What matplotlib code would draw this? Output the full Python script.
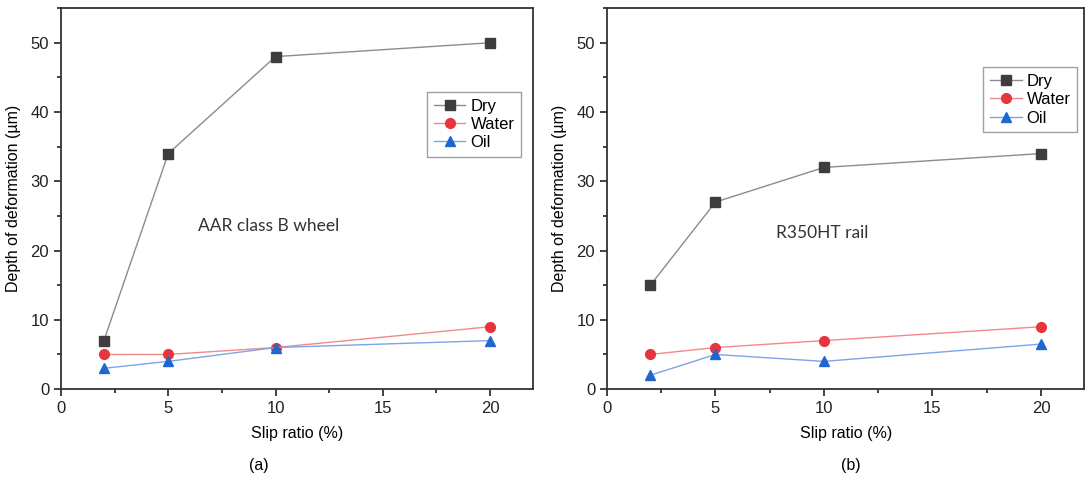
import matplotlib.pyplot as plt
from matplotlib.ticker import MultipleLocator

plt.rcParams['font.family'] = ['Liberation Sans', 'DejaVu Sans']

slip = [2, 5, 10, 20]

# (a) AAR class B wheel
wheel_dry = [7, 34, 48, 50]
wheel_water = [5, 5, 6, 9]
wheel_oil = [3, 4, 6, 7]

# (b) R350HT rail
rail_dry = [15, 27, 32, 34]
rail_water = [5, 6, 7, 9]
rail_oil = [2, 5, 4, 6.5]

fig = plt.figure(figsize=(10.85, 4.78), dpi=100)
ax1 = fig.add_axes([0.0562, 0.186, 0.435, 0.797])
ax2 = fig.add_axes([0.5594, 0.186, 0.44, 0.797])


def draw(ax, dry, water, oil, note, note_xy, tag, tag_x, legend_anchor):
    ax.plot(slip, dry, color='#8c8c8c', lw=1, marker='s', ms=6.5,
            mfc='#3d3d3d', mec='#3d3d3d', label='Dry')
    ax.plot(slip, water, color='#f08a8a', lw=1, marker='o', ms=7,
            mfc='#e8343b', mec='#e8343b', label='Water')
    ax.plot(slip, oil, color='#7aa6e6', lw=1, marker='^', ms=7.5,
            mfc='#1f66d1', mec='#1f66d1', label='Oil')
    ax.set_xlim(0, 22)
    ax.set_ylim(0, 55)
    ax.xaxis.set_major_locator(MultipleLocator(5))
    ax.xaxis.set_minor_locator(MultipleLocator(2.5))
    ax.yaxis.set_major_locator(MultipleLocator(10))
    ax.yaxis.set_minor_locator(MultipleLocator(5))
    ax.tick_params(which='major', direction='out', length=5, width=1.2,
                   labelsize=12, colors='#222222')
    ax.tick_params(which='minor', direction='out', length=3, width=1.2,
                   colors='#222222')
    for s in ax.spines.values():
        s.set_linewidth(1.3)
        s.set_color('#333333')
    ax.set_xlabel('Slip ratio (%)', fontsize=11.5, labelpad=7)
    ax.set_ylabel('Depth of deformation (\u00b5m)', fontsize=11.5, labelpad=7)
    ax.text(note_xy[0], note_xy[1], note, fontsize=12.5, family='Lato',
            color='#333333')
    ax.text(tag_x, -0.2, tag, transform=ax.transAxes, fontsize=11.5,
            ha='center', va='center')
    leg = ax.legend(loc='upper right', bbox_to_anchor=legend_anchor,
                    fontsize=12, frameon=True, fancybox=False,
                    handlelength=1.9, handletextpad=0.3, borderpad=0.4,
                    labelspacing=0.2, borderaxespad=0)
    leg.get_frame().set_edgecolor('#888888')
    leg.get_frame().set_linewidth(1)


draw(ax1, wheel_dry, wheel_water, wheel_oil, 'AAR class B wheel',
     (6.4, 22.8), '(a)', 0.42, (0.975, 0.78))
draw(ax2, rail_dry, rail_water, rail_oil, 'R350HT rail',
     (7.8, 21.8), '(b)', 0.51, (0.985, 0.845))

fig.savefig('out.png', dpi=100)
